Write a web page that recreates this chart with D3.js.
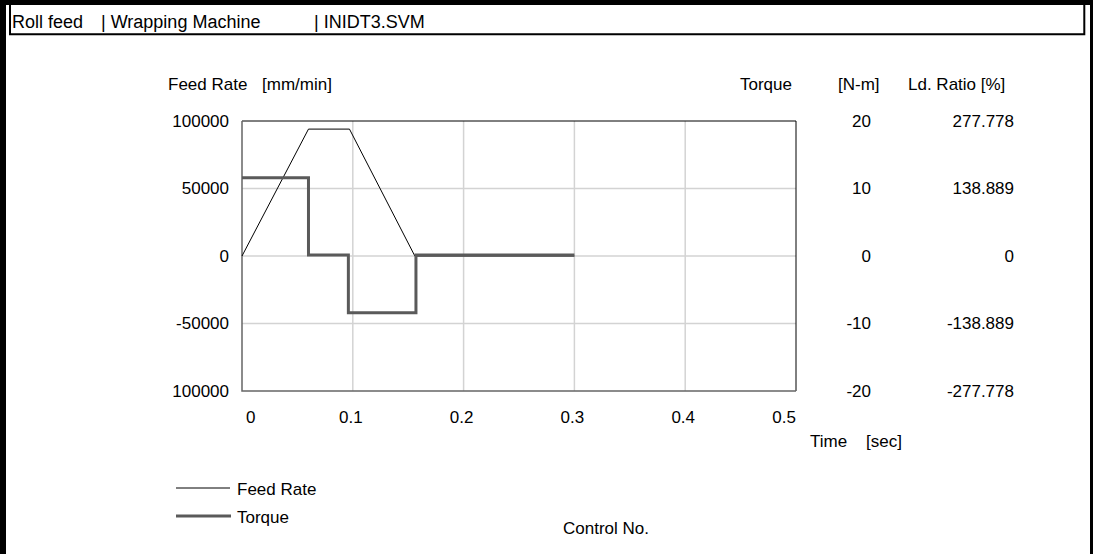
<!DOCTYPE html>
<html lang="en">
<head>
<meta charset="utf-8">
<script src="https://d3js.org/d3.v7.min.js"></script>
<style>
  body { margin: 0; background: #fff; }
  svg text { font-family: "Liberation Sans", Arial, sans-serif; font-size: 17px; fill: #000; }
</style>
</head>
<body>
<div id="chart"></div>
<script>
// time [sec]
var feedTime   = [0, 0.06, 0.097, 0.156, 0.3];
var feedRate   = [0, 94000, 94000, 0, 0];          // mm/min
var torqueTime = [0, 0.06, 0.06, 0.096, 0.096, 0.157, 0.157, 0.3];
var torque     = [11.6, 11.6, 0.15, 0.15, -8.4, -8.4, 0.15, 0.15]; // N-m

var xTicks       = [0, 0.1, 0.2, 0.3, 0.4, 0.5];
var feedTicks    = [100000, 50000, 0, -50000, -100000];
var feedLabels   = ["100000", "50000", "0", "-50000", "100000"];
var torqueTicks  = [20, 10, 0, -10, -20];
var torqueLabels = ["20", "10", "0", "-10", "-20"];
var ratioLabels  = ["277.778", "138.889", "0", "-138.889", "-277.778"];

var W = 1093, H = 554;
var svg = d3.select("#chart").append("svg")
    .attr("width", W).attr("height", H);

// frame
svg.append("rect").attr("x", 0).attr("y", 0).attr("width", 6).attr("height", H).attr("fill", "#000");
svg.append("rect").attr("x", 0).attr("y", 0).attr("width", W).attr("height", 5).attr("fill", "#000");
svg.append("rect").attr("x", 1090).attr("y", 0).attr("width", 3).attr("height", H).attr("fill", "#000");
svg.append("path")
    .attr("d", "M10,5 V34.3 H1084.3 V5")
    .attr("fill", "none").attr("stroke", "#000").attr("stroke-width", 2);

svg.append("text").attr("x", 12).attr("y", 28).style("font-size", "18px").text("Roll feed");
svg.append("text").attr("x", 101).attr("y", 28).style("font-size", "18px").text("| Wrapping Machine");
svg.append("text").attr("x", 314).attr("y", 28).style("font-size", "18px").text("| INIDT3.SVM");

var x = d3.scaleLinear().domain([0, 0.5]).range([242, 796]);
var yF = d3.scaleLinear().domain([-100000, 100000]).range([391, 121]);
var yT = d3.scaleLinear().domain([-20, 20]).range([391, 121]);

// grid
var grid = svg.append("g").attr("stroke", "#d3d3d3").attr("stroke-width", 1.5);
xTicks.slice(1, -1).forEach(function(t) {
  grid.append("line").attr("x1", x(t)).attr("x2", x(t)).attr("y1", 121).attr("y2", 391);
});
feedTicks.slice(1, -1).forEach(function(v) {
  grid.append("line").attr("x1", 242).attr("x2", 796).attr("y1", yF(v)).attr("y2", yF(v));
});

// plot border
svg.append("path").attr("d", "M242,121 H796 V391").attr("fill", "none").attr("stroke", "#000").attr("stroke-width", 1);
svg.append("path").attr("d", "M242,121 V391 H796").attr("fill", "none").attr("stroke", "#666").attr("stroke-width", 1.5);

function clean(g) {
  g.select(".domain").remove();
  g.selectAll("text").attr("font-size", null).attr("font-family", null);
}

// left axis labels
svg.append("g").attr("transform", "translate(242,0)")
  .call(d3.axisLeft(yF).tickValues(feedTicks).tickSize(0).tickPadding(13)
        .tickFormat(function(d, i) { return feedLabels[i]; }))
  .call(clean);

// right axis labels
svg.append("g").attr("transform", "translate(871,0)")
  .call(d3.axisLeft(yT).tickValues(torqueTicks).tickSize(0).tickPadding(0)
        .tickFormat(function(d, i) { return torqueLabels[i]; }))
  .call(clean);
svg.append("g").attr("transform", "translate(1014,0)")
  .call(d3.axisLeft(yT).tickValues(torqueTicks).tickSize(0).tickPadding(0)
        .tickFormat(function(d, i) { return ratioLabels[i]; }))
  .call(clean);

// bottom axis labels
svg.append("g").selectAll("text").data(xTicks).enter().append("text")
  .attr("x", function(d, i) { return x(d) + (i === 0 ? 4 : (i === xTicks.length - 1 ? 0 : -2)); })
  .attr("y", 423)
  .attr("text-anchor", function(d, i) { return i === 0 ? "start" : (i === xTicks.length - 1 ? "end" : "middle"); })
  .text(function(d) { return d; });

// titles
svg.append("text").attr("x", 168).attr("y", 90).text("Feed Rate");
svg.append("text").attr("x", 262).attr("y", 90).text("[mm/min]");
svg.append("text").attr("x", 740).attr("y", 90).text("Torque");
svg.append("text").attr("x", 838).attr("y", 90).text("[N-m]");
svg.append("text").attr("x", 908).attr("y", 90).text("Ld. Ratio [%]");
svg.append("text").attr("x", 810).attr("y", 447).text("Time");
svg.append("text").attr("x", 866).attr("y", 447).text("[sec]");

// series
var feedLine = d3.line().x(function(d) { return x(d[0]); }).y(function(d) { return yF(d[1]); });
var torqueLine = d3.line().x(function(d) { return x(d[0]); }).y(function(d) { return yT(d[1]); });

svg.append("path")
  .datum(d3.zip(feedTime, feedRate))
  .attr("d", feedLine).attr("fill", "none").attr("stroke", "#000").attr("stroke-width", 1);
svg.append("path")
  .datum(d3.zip(torqueTime, torque))
  .attr("d", torqueLine).attr("fill", "none").attr("stroke", "#5a5a5a").attr("stroke-width", 3);

// legend
svg.append("line").attr("x1", 176).attr("x2", 230).attr("y1", 488).attr("y2", 488).attr("stroke", "#000").attr("stroke-width", 1);
svg.append("text").attr("x", 237).attr("y", 495).text("Feed Rate");
svg.append("line").attr("x1", 176).attr("x2", 231).attr("y1", 516).attr("y2", 516).attr("stroke", "#5a5a5a").attr("stroke-width", 3);
svg.append("text").attr("x", 237).attr("y", 523).text("Torque");
svg.append("text").attr("x", 563).attr("y", 534).text("Control No.");
</script>
</body>
</html>
